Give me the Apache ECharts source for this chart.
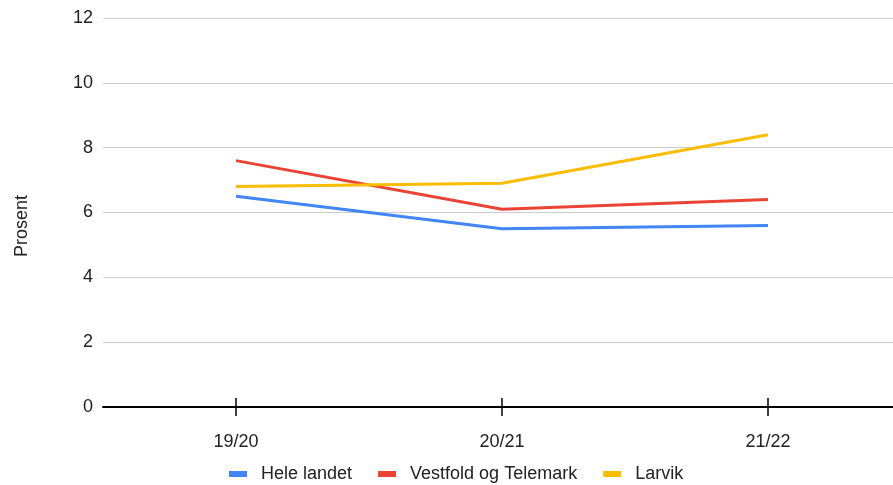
<!DOCTYPE html>
<html>
<head>
<meta charset="utf-8">
<script src="https://cdn.jsdelivr.net/npm/echarts@6/dist/echarts.min.js"></script>
<style>
  html, body { margin: 0; padding: 0; background: #fff; overflow: hidden; }
  #chart { width: 901px; height: 485px; }
</style>
</head>
<body>
<div id="chart"></div>
<script>
const categories = ['19/20', '20/21', '21/22'];
const heleLandet = [6.5, 5.5, 5.6];
const vestfoldTelemark = [7.6, 6.1, 6.4];
const larvik = [6.8, 6.9, 8.4];

const chart = echarts.init(document.getElementById('chart'));
const font = 'Liberation Sans, Arial, sans-serif';

const line = (name, data, color) => ({
  name: name,
  type: 'line',
  data: data,
  symbol: 'none',
  lineStyle: { color: color, width: 3 },
  itemStyle: { color: color },
  xAxisIndex: 0
});

// the plot area runs a little past the right edge of the window, as in the original
chart.setOption({
  animation: false,
  textStyle: { fontFamily: font },
  grid: { left: 103, right: 0, top: 18, bottom: 78 },
  legend: {
    top: 460,
    left: 224,
    icon: 'rect',
    itemWidth: 18,
    itemHeight: 6,
    itemGap: 26,
    textStyle: { fontSize: 18, color: '#222', fontFamily: font, padding: [0, 0, 0, 9] }
  },
  graphic: [{
    type: 'text',
    x: 22,
    y: 226,
    rotation: Math.PI / 2,
    style: {
      text: 'Prosent',
      fontSize: 18,
      fontFamily: font,
      fill: '#222',
      align: 'center',
      verticalAlign: 'middle'
    }
  }],
  xAxis: [{
    type: 'category',
    data: categories,
    axisLine: { show: true, lineStyle: { color: '#000', width: 2 } },
    axisTick: { show: true, alignWithLabel: true, length: 9, lineStyle: { color: '#000', width: 1.5 } },
    axisLabel: { fontSize: 18, color: '#222', margin: 26 }
  }, {
    type: 'category',
    data: categories,
    position: 'bottom',
    axisLine: { show: false },
    axisTick: { show: true, inside: true, alignWithLabel: true, length: 9, lineStyle: { color: '#000', width: 1.5 } },
    axisLabel: { show: false }
  }],
  yAxis: {
    type: 'value',
    min: 0,
    max: 12,
    interval: 2,
    axisLine: { show: false },
    axisTick: { show: false },
    axisLabel: { fontSize: 18, color: '#222', margin: 10 },
    splitLine: { lineStyle: { color: '#ccc', width: 1 } }
  },
  series: [
    line('Hele landet', heleLandet, '#4285F4'),
    line('Vestfold og Telemark', vestfoldTelemark, '#EA4335'),
    line('Larvik', larvik, '#FBBC04')
  ]
});
</script>
</body>
</html>
